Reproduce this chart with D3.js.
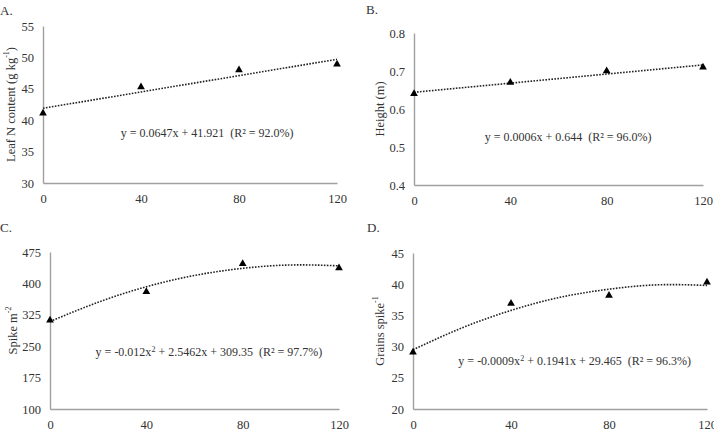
<!DOCTYPE html>
<html>
<head>
<meta charset="utf-8">
<script src="https://cdn.jsdelivr.net/npm/d3@7"></script>
<style>
  body { margin: 0; background: #fff; }
  text { font-family: "Liberation Serif", "Times New Roman", serif; fill: #333; }
</style>
</head>
<body>
<div id="chart"></div>
<script>
// Values
const doses = [0, 40, 80, 120];
const xTicks = [0, 40, 80, 120];

const leafN = [41.1, 45.3, 48.0, 48.9];
const heightM = [0.64, 0.67, 0.70, 0.71];
const spikes = [312, 380, 447, 437];
const grains = [29.1, 36.9, 38.2, 40.3];

// trend lines, read at every 20 kg
const trendX = [0, 20, 40, 60, 80, 100, 120];
const leafNTrend = [41.9, 43.2, 44.5, 45.8, 47.1, 48.4, 49.7];
const heightTrend = [0.644, 0.656, 0.668, 0.680, 0.692, 0.704, 0.716];
const spikesTrend = [309, 355, 392, 419, 436, 444, 442];
const grainsTrend = [29.5, 33.0, 35.8, 37.9, 39.2, 39.9, 39.8];

const leafNTicks = [30, 35, 40, 45, 50, 55];
const heightTicks = [0.4, 0.5, 0.6, 0.7, 0.8];
const spikeTicks = [100, 175, 250, 325, 400, 475];
const grainsTicks = [20, 25, 30, 35, 40, 45];

const svg = d3.select("#chart")
  .append("svg")
  .attr("width", 714)
  .attr("height", 436);

// one entry per panel
const panels = [
  {tag: "A.", tagX: 0, tagY: 15, left: 43, right: 337, top: 26, bottom: 183,
   ticks: leafNTicks, fmt: d3.format("d"), pts: leafN, trend: leafNTrend,
   label: ["Leaf N content (g kg", "-1", ")"], labelX: 12,
   eq: [["y = 0.0647x + 41.921  (R² = 92.0%)"]], eqAt: [67, 37.3]},
  {tag: "B.", tagX: 366, tagY: 14, left: 414, right: 703, top: 33, bottom: 185,
   ticks: heightTicks, fmt: d3.format(".1f"), pts: heightM, trend: heightTrend,
   label: ["Height (m)", "", ""], labelX: 381,
   eq: [["y = 0.0006x + 0.644  (R² = 96.0%)"]], eqAt: [64, 0.516]},
  {tag: "C.", tagX: 0, tagY: 232, left: 50, right: 339, top: 252, bottom: 409,
   ticks: spikeTicks, fmt: d3.format("d"), pts: spikes, trend: spikesTrend,
   label: ["Spike m", "-2", ""], labelX: 14,
   eq: [["y = -0.012x"], ["2", true], [" + 2.5462x + 309.35  (R² = 97.7%)"]], eqAt: [66, 226]},
  {tag: "D.", tagX: 367, tagY: 232, left: 413, right: 707, top: 253, bottom: 409,
   ticks: grainsTicks, fmt: d3.format("d"), pts: grains, trend: grainsTrend,
   label: ["Grains spike", "-1", ""], labelX: 381,
   eq: [["y = -0.0009x"], ["2", true], [" + 0.1941x + 29.465  (R² = 96.3%)"]], eqAt: [66, 27.0]}
];

panels.forEach(function(p) {
  const x = d3.scaleLinear().domain([0, 120]).range([p.left, p.right]);
  const y = d3.scaleLinear().domain(d3.extent(p.ticks)).range([p.bottom, p.top]);

  const g = svg.append("g");

  g.append("text")
    .attr("x", p.tagX)
    .attr("y", p.tagY)
    .style("font-size", "13px")
    .text(p.tag);

  // axes without tick marks, gray lines
  const xAxis = g.append("g")
    .attr("transform", `translate(0,${p.bottom})`)
    .call(d3.axisBottom(x).tickValues(xTicks).tickSize(0).tickPadding(11));
  const yAxis = g.append("g")
    .attr("transform", `translate(${p.left},0)`)
    .call(d3.axisLeft(y).tickValues(p.ticks).tickFormat(p.fmt).tickSize(0).tickPadding(9));

  [xAxis, yAxis].forEach(function(a) {
    a.select(".domain").attr("stroke", "#a0a0a0").attr("stroke-width", 1.4);
    a.selectAll("text")
      .style("font-family", "Liberation Serif, serif")
      .style("font-size", "12.5px")
      .attr("fill", "#333");
  });

  // y label, rotated
  const cy = (p.top + p.bottom) / 2;
  const lab = g.append("text")
    .attr("transform", `translate(${p.labelX},${cy}) rotate(-90)`)
    .attr("text-anchor", "middle")
    .attr("dominant-baseline", "middle")
    .style("font-size", "12.5px");
  lab.append("tspan").text(p.label[0]);
  if (p.label[1]) {
    lab.append("tspan").attr("baseline-shift", "super").style("font-size", "8px").text(p.label[1]);
  }
  if (p.label[2]) lab.append("tspan").text(p.label[2]);

  // dotted trend line
  g.append("path")
    .datum(trendX.map((d, i) => [d, p.trend[i]]))
    .attr("d", d3.line()
      .x(d => x(d[0]))
      .y(d => y(d[1]))
      .curve(d3.curveNatural))
    .attr("fill", "none")
    .attr("stroke", "#222")
    .attr("stroke-width", 1.6)
    .attr("stroke-dasharray", "1.6,1.4");

  // triangle markers
  g.selectAll(".pt")
    .data(doses.map((d, i) => [d, p.pts[i]]))
    .join("path")
    .attr("class", "pt")
    .attr("transform", d => `translate(${x(d[0])},${y(d[1])})`)
    .attr("d", d3.symbol().type(d3.symbolTriangle).size(26))
    .attr("fill", "#000");

  // equation (keep the double space before the R²)
  const eq = g.append("text")
    .attr("x", x(p.eqAt[0]))
    .attr("y", y(p.eqAt[1]))
    .attr("text-anchor", "middle")
    .style("white-space", "pre")
    .style("font-size", "12px");
  p.eq.forEach(function(part) {
    const t = eq.append("tspan").text(part[0]);
    if (part[1]) t.attr("baseline-shift", "super").style("font-size", "8px");
  });
});
</script>
</body>
</html>
